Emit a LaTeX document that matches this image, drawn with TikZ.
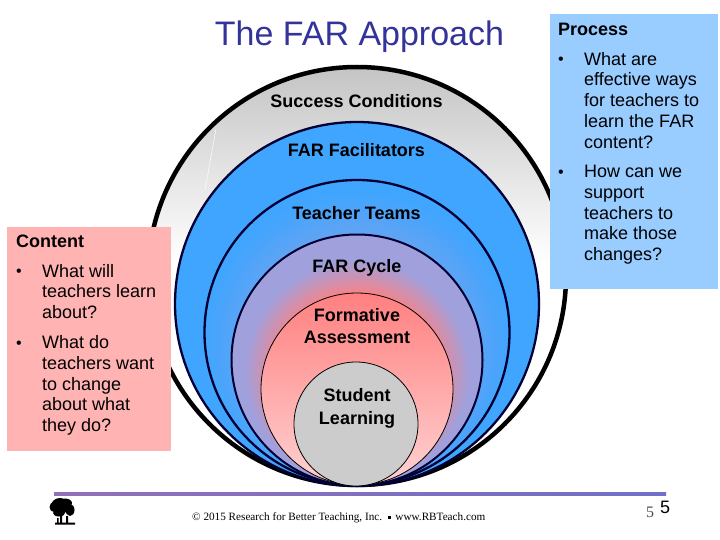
\documentclass[tikz,border=0pt]{standalone}
\usepackage{fontspec}
\setmainfont{Liberation Sans}
\newfontfamily\serifft{Liberation Serif}
\usetikzlibrary{shapes.geometric}
\definecolor{titleblue}{HTML}{333399}
\definecolor{boxpink}{HTML}{FFB3B3}
\definecolor{boxblue}{HTML}{99CCFF}
\definecolor{ringblue}{HTML}{3FA5FF}
\definecolor{ringpurple}{HTML}{A0A0DC}
\definecolor{ringred}{HTML}{FF8080}
\definecolor{ringpale}{HTML}{FFD2D2}
\definecolor{coregray}{HTML}{CCCCCC}
\definecolor{inkblue}{HTML}{000033}
\definecolor{ruleleft}{HTML}{9270B8}
\definecolor{ruleright}{HTML}{7070C8}
\pgfdeclareradialshading{tealshade}{\pgfpoint{0bp}{0bp}}{color(0bp)=(ringpurple); color(12bp)=(ringpurple!70!ringblue); color(20bp)=(ringpurple!25!ringblue); color(25bp)=(ringblue); color(50bp)=(ringblue)}
\pgfdeclareradialshading{cycleshade}{\pgfpoint{0bp}{0bp}}{color(0bp)=(ringred); color(16.7bp)=(ringred); color(25bp)=(ringpurple); color(50bp)=(ringpurple)}
\tikzset{
  ringline/.style={draw=inkblue,line width=#1},
  ringlabel/.style={font=\fontsize{18}{#1}\selectfont\bfseries,align=center,text=black,inner sep=0pt},
  ringlabel/.default=22,
  boxhead/.style={font=\fontsize{18}{20.75}\selectfont\bfseries,anchor=west,inner sep=0pt},
  boxtext/.style={font=\fontsize{18}{20.75}\selectfont,align=left,anchor=north west,inner sep=0pt},
  boxdot/.style={font=\fontsize{16}{20}\selectfont,anchor=base west,inner sep=0pt},
}
\begin{document}
\begin{tikzpicture}[x=1pt,y=-1pt]
\useasboundingbox (0,0) rectangle (720,540);
\fill[white] (0,0) rectangle (720,540);
% outer circle
\fill[white] (357,276) circle (209);
\begin{scope}
  \clip (357,276) circle (209);
  \shade[top color=black!23,bottom color=white] (140,67) rectangle (575,262);
\end{scope}
\draw[white,line width=0.6pt,opacity=.8] (216,129) -- (205,190);
\draw[black,line width=4.5pt] (357,276) circle (209);
% blue rings
\fill[ringblue] (357,304) circle (182);
\draw[ringline=2.3pt] (357,304) circle (182);
\begin{scope}
  \clip (357,332.5) circle (152.5);
  \shade[shading=tealshade] (357,345) circle (155);
\end{scope}
\draw[ringline=2.3pt] (357,332.5) circle (152.5);
\begin{scope}
  \clip (357,360) circle (125.5);
  \fill[ringpurple] (357,360) circle (125.5);
  \shade[shading=cycleshade] (357,372) circle (112);
\end{scope}
\draw[ringline=2pt] (357,360) circle (125.5);
\shade[top color=ringred,bottom color=ringpale] (357,389) circle (96);
\draw[black,line width=0.8pt] (357,389) circle (96);
\fill[coregray] (356,424) circle (62);
\draw[black,line width=0.8pt] (356,424) circle (62);
% labels
\node[font=\fontsize{34}{38}\selectfont,text=titleblue,inner sep=0pt] (title) at (359.5,37) {The FAR Approach};
\node[ringlabel] (success) at (356.5,101) {Success Conditions};
\node[ringlabel] (facil) at (356.5,150.5) {FAR Facilitators};
\node[ringlabel] (teams) at (356.5,213) {Teacher Teams};
\node[ringlabel] (cycle) at (357,268) {FAR Cycle};
\node[ringlabel] (form) at (357,326.5) {Formative\\Assessment};
\node[ringlabel=23] (student) at (357,408.5) {Student\\Learning};
% content box
\fill[boxpink] (7,227) rectangle (171,451);
\node[boxhead] (contenth) at (16,241) {Content};
\node[boxdot] (b1) at (16,276) {•};
\node[boxtext] (c1) at (42,264) {What will\\teachers learn\\about?};
\node[boxdot] (b2) at (16,348) {•};
\node[boxtext] (c2) at (42,335.5) {What do\\teachers want\\to change\\about what\\they do?};
% process box
\fill[boxblue] (550,14) rectangle (718,289);
\node[boxhead] (processh) at (558,29) {Process};
\node[boxdot] (b3) at (558,64.5) {•};
\node[boxtext] (p1) at (584,52) {What are\\effective ways\\for teachers to\\learn the FAR\\content?};
\node[boxdot] (b4) at (558,177.5) {•};
\node[boxtext] (p2) at (584,165) {How can we\\support\\teachers to\\make those\\changes?};
% footer
\shade[left color=ruleleft,right color=ruleright] (54,492.5) rectangle (666,495.5);
\node[font=\serifft\fontsize{11.2}{13}\selectfont,inner sep=0pt,anchor=base west] (foot) at (192,520) {© 2015 Research for Better Teaching, Inc. \,\raisebox{1pt}{\rule{3pt}{3pt}}\, www.RBTeach.com};
\node[font=\serifft\fontsize{16}{18}\selectfont,text=black!70,inner sep=0pt,anchor=base west] (pn1) at (646,517) {5};
\node[font=\fontsize{18}{20}\selectfont,inner sep=0pt,anchor=base west] (pn2) at (660,513) {5};
% tree logo
\fill[black] (60,506) ellipse (9 and 8) (65,503) ellipse (7 and 4.5) (54,507) ellipse (4.5 and 5) (70,510) ellipse (4.5 and 6) (59,513) ellipse (6 and 3.5);
\fill[black] (60,512) rectangle (62,523) (55,522.5) rectangle (75,524.5) (66,516) rectangle (68,523) (57,518) rectangle (58.5,523);
\end{tikzpicture}
\end{document}
